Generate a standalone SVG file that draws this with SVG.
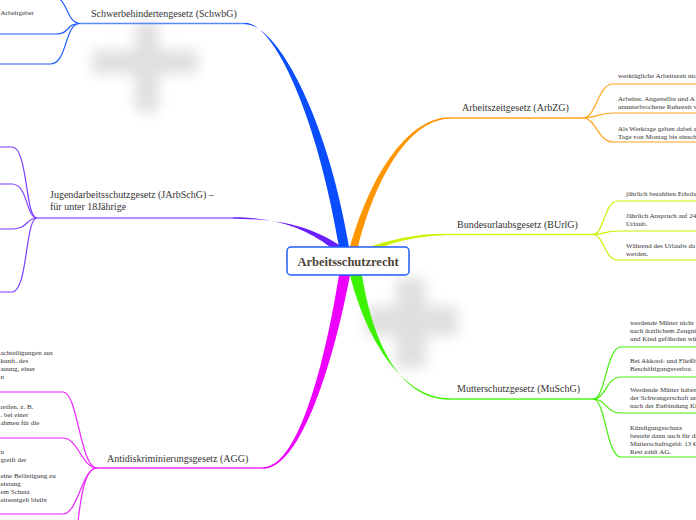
<svg xmlns="http://www.w3.org/2000/svg" width="696" height="520" viewBox="0 0 696 520">
<defs>
<filter id="blur" x="-50%" y="-50%" width="200%" height="200%"><feGaussianBlur stdDeviation="6.5"/></filter>
<style>
.lbl{font-family:"Liberation Serif","Times New Roman",serif;font-size:10px;fill:#333}
.sm{font-family:"Liberation Serif","Times New Roman",serif;font-size:7px;fill:#333}
.c{fill:none;stroke-width:1.2}
.u{fill:none;stroke-width:1.6}
.center{font-family:"Liberation Serif","Times New Roman",serif;font-size:12.5px;font-weight:bold;fill:#4d4438;text-anchor:middle}
</style>
</defs>
<rect width="696" height="520" fill="#fff"/>
<g id="shadows" fill="#000" opacity="0.12" filter="url(#blur)">
<rect x="92" y="50" width="106" height="24"/>
<rect x="135" y="22" width="24" height="90"/>
<rect x="366" y="306" width="92" height="30"/>
<rect x="396" y="278" width="30" height="90"/>
</g>
<g id="connectors">
<path d="M233,217.3 C275,217.3 305,228 330,247 L342,247 C312,226 278,218.7 233,218.7 Z" fill="#6a1fff"/>
<path class="u" d="M37,218 H233" stroke="#9a6bff"/>
<g class="c" stroke="#7a3cff">
<path d="M37,218 C25,218 28,147 12,147 H0"/>
<path d="M37,218 C26,218 28,184 12,184 H0"/>
<path d="M37,218 C26,218 28,229 12,229 H0"/>
<path d="M37,218 C25,218 28,292 12,292 H0"/>
</g>
<path d="M245,22.8 C275,22.8 318,120 339,247 L349,247 C328,120 278,24.2 245,24.2 Z" fill="#0a4dff"/>
<path class="u" d="M80,23.5 H245" stroke="#5a86ff"/>
<g class="c" stroke="#1f5cff">
<path d="M80,23.5 C66,23.5 68,-4 52,-4 H0"/>
<path d="M80,23.5 C66,23.5 70,34 56,34 H0"/>
<path d="M80,23.5 C64,23.5 68,64 50,64 H0"/>
</g>
<path d="M350,247 C372,170 410,117.3 450,117.3 L450,118.8 C412,118.8 377,172 358,247 Z" fill="#ff9500"/>
<path class="u" d="M450,118 H583" stroke="#ffa41f"/>
<g class="c" stroke="#ffa31a">
<path d="M583,118 C596,118 598,84 613,84 H696"/>
<path d="M583,118 C596,118 598,113 613,113 H696"/>
<path d="M583,118 C596,118 598,142 613,142 H696"/>
</g>
<path d="M366,248 C390,240 415,233.8 445,233.8 L445,235.2 C415,236 392,243 380,248 Z" fill="#ccf200"/>
<path class="u" d="M445,234.5 H593" stroke="#d2f51a"/>
<g class="c" stroke="#ccf000">
<path d="M593,234.5 C604,234.5 604,201 618,201 H696"/>
<path d="M593,234.5 C604,234.5 604,231 618,231 H696"/>
<path d="M593,234.5 C604,234.5 604,260 618,260 H696"/>
</g>
<path d="M350,275 C365,335 400,398.3 450,398.3 L450,399.7 C398,400 372,338 362,275 Z" fill="#3df200"/>
<path class="u" d="M450,399 H593" stroke="#55f21f"/>
<g class="c" stroke="#45f00a">
<path d="M593,399 C606,399 606,347 621,347 H696"/>
<path d="M593,399 C606,399 606,377 621,377 H696"/>
<path d="M593,399 C606,399 606,413 621,413 H696"/>
<path d="M593,399 C606,399 606,457 621,457 H696"/>
</g>
<path d="M339,275 C322,380 295,467.3 263,467.3 L263,468.7 C297,469 330,380 350,275 Z" fill="#ee00ff"/>
<path class="u" d="M97,468 H263" stroke="#ef2eff"/>
<g class="c" stroke="#ee22ff">
<path d="M97,468 C80,468 78,392 63,392 H0"/>
<path d="M97,468 C82,468 78,438 63,438 H0"/>
<path d="M97,468 C82,468 78,514 63,514 H0"/>
<path d="M97,468 C84,468 80,500 76,540"/>
</g>
</g>
<g id="center">
<rect x="287" y="247" width="122" height="28" rx="4" fill="#fff" stroke="#1f5fff" stroke-width="1.5"/>
<text class="center" x="348" y="266">Arbeitsschutzrecht</text>
</g>
<g id="schwbg">
<text class="lbl" x="91" y="17">Schwerbehindertengesetz (SchwbG)</text>
<text class="sm" x="0.5" y="15">Arbeitgeber</text>
</g>
<g id="jarbschg">
<text class="lbl" x="50" y="198">Jugendarbeitsschutzgesetz (JArbSchG) –</text>
<text class="lbl" x="50" y="210">für unter 18Jährige</text>
</g>
<g id="agg">
<text class="lbl" x="107" y="462">Antidiskriminierungsgesetz (AGG)</text>
<text class="sm" x="0.5" y="355">achteiligungen aus</text>
<text class="sm" x="0.5" y="363">kunft, des</text>
<text class="sm" x="0.5" y="371">auung, einer</text>
<text class="sm" x="0.5" y="379">n</text>
<text class="sm" x="0.5" y="409">reifen, z. B.</text>
<text class="sm" x="0.5" y="417">. bei einer</text>
<text class="sm" x="0.5" y="425">ahmen für die</text>
<text class="sm" x="0.5" y="454">n</text>
<text class="sm" x="0.5" y="462">greift der</text>
<text class="sm" x="0.5" y="478">eine Belästigung zu</text>
<text class="sm" x="0.5" y="486">eistung</text>
<text class="sm" x="0.5" y="494">em Schutz</text>
<text class="sm" x="0.5" y="502">eitsentgelt bleibt</text>
</g>
<g id="arbzg">
<text class="lbl" x="462" y="111">Arbeitszeitgesetz (ArbZG)</text>
<text class="sm" x="618" y="78">werktägliche Arbeitszeit nic</text>
<text class="sm" x="618" y="101">Arbeiter, Angestellte und A</text>
<text class="sm" x="618" y="109">ununterbrochene Ruhezeit v</text>
<text class="sm" x="618" y="131">Als Werktage gelten dabei a</text>
<text class="sm" x="618" y="139">Tage von Montag bis einsch</text>
</g>
<g id="burlg">
<text class="lbl" x="457" y="228">Bundesurlaubsgesetz (BUrlG)</text>
<text class="sm" x="626" y="196">jährlich bezahlten Erholu</text>
<text class="sm" x="626" y="218">Jährlich Anspruch auf 24</text>
<text class="sm" x="626" y="226">Urlaub.</text>
<text class="sm" x="626" y="248">Während des Urlaubs da</text>
<text class="sm" x="626" y="256">werden.</text>
</g>
<g id="muschg">
<text class="lbl" x="457" y="392">Mutterschutzgesetz (MuSchG)</text>
<text class="sm" x="630" y="325">werdende Mütter nicht</text>
<text class="sm" x="630" y="333">nach ärztlichem Zeugni</text>
<text class="sm" x="630" y="341">und Kind gefährden wü</text>
<text class="sm" x="630" y="363">Bei Akkord- und Fließb</text>
<text class="sm" x="630" y="371">Beschäftigungsverbot.</text>
<text class="sm" x="630" y="392">Werdende Mütter haben</text>
<text class="sm" x="630" y="400">der Schwangerschaft un</text>
<text class="sm" x="630" y="408">nach der Entbindung Ki</text>
<text class="sm" x="630" y="430">Kündigungsschutz</text>
<text class="sm" x="630" y="438">besteht dann auch für di</text>
<text class="sm" x="630" y="446">Mutterschaftsgeld: 13 €</text>
<text class="sm" x="630" y="454">Rest zahlt AG.</text>
</g>
</svg>
